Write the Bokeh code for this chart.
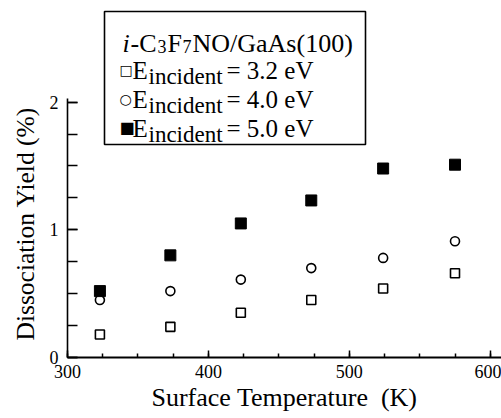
from bokeh.plotting import figure
from bokeh.models import FixedTicker, Label, BoxAnnotation, Title
from bokeh.embed import file_html
from bokeh.resources import INLINE

# ---- data ----
temperature = [323, 373, 423, 473, 524, 575]
yield_32 = [0.18, 0.24, 0.35, 0.45, 0.54, 0.66]
yield_40 = [0.45, 0.52, 0.61, 0.70, 0.78, 0.91]
yield_50 = [0.52, 0.80, 1.05, 1.23, 1.48, 1.51]
x_ticks = [300, 400, 500, 600]
y_ticks = [0, 1, 2]

SERIF = "Liberation Serif"

p = figure(width=501, height=418, x_range=(300, 608), y_range=(0, 2.796),
           output_backend="svg", toolbar_location=None,
           min_border_left=67, min_border_right=0, min_border_top=0, min_border_bottom=61)
p.outline_line_color = None
p.grid.visible = False
p.background_fill_color = "white"

# axes
p.xaxis.ticker = FixedTicker(ticks=x_ticks, minor_ticks=list(range(300, 626, 25)))
p.yaxis.ticker = FixedTicker(ticks=y_ticks, minor_ticks=[i * 0.25 for i in range(9)])
for ax in (p.xaxis[0], p.yaxis[0]):
    ax.axis_line_color = "black"
    ax.major_tick_line_color = "black"
    ax.minor_tick_line_color = "black"
    ax.major_tick_out = 0
    ax.minor_tick_out = 0
    ax.major_label_text_font = SERIF
    ax.major_label_text_font_size = "18px"
    ax.major_label_text_color = "black"
    ax.axis_label_text_font = SERIF
    ax.axis_label_text_font_size = "26px"
    ax.axis_label_text_color = "black"
    ax.axis_label_text_font_style = "normal"
    ax.major_tick_line_width = 1.5
    ax.minor_tick_line_width = 1.5
p.xaxis.axis_line_width = 2
p.yaxis.axis_line_width = 1.6
p.yaxis.bounds = (0, 2.03)
p.xaxis.major_tick_in = 7
p.xaxis.minor_tick_in = 4
p.yaxis.major_tick_in = 10
p.yaxis.minor_tick_in = 10
p.xaxis.major_label_standoff = 7
p.yaxis.major_label_standoff = 9
p.xaxis.axis_label = "Surface Temperature\u00a0 (K)"
p.xaxis.axis_label_standoff = 2

# y-axis title beside the axis, starting near the bottom of the axis
p.add_layout(Title(text="Dissociation Yield (%)", text_font=SERIF, text_font_size="25.5px",
                   text_font_style="normal", text_color="black", align="left",
                   offset=17, standoff=14), "left")

# data markers
p.scatter(temperature, yield_32, marker="square", size=9, fill_color=None,
          line_color="black", line_width=1.6)
p.scatter(temperature, yield_40, marker="circle", size=9, fill_color=None,
          line_color="black", line_width=1.6)
p.scatter(temperature, yield_50, marker="square", size=11, fill_color="black",
          line_color="black", line_width=1)

# ---- legend box (page pixel layout -> frame screen units) ----
FL, FB = 67, 357  # frame left / bottom on the page


def sx(px):
    return px - FL


def sy(py):
    return FB - py


p.add_layout(BoxAnnotation(left=sx(104), right=sx(365), top=sy(11), bottom=sy(144),
                           left_units="screen", right_units="screen",
                           top_units="screen", bottom_units="screen",
                           fill_color="white", fill_alpha=1, line_color="black",
                           line_alpha=1, line_width=1.6, level="overlay"))


def txt(text, px, py, size="25px", style="normal", font=SERIF):
    p.add_layout(Label(x=sx(px), y=sy(py), x_units="screen", y_units="screen",
                       text=text, text_font=font, text_font_size=size,
                       text_font_style=style, text_color="black",
                       text_baseline="alphabetic", text_align="left", level="overlay"))


# title line: i-C3F7NO/GaAs(100)
txt("i", 122, 43, size="26px", style="italic")
txt("-C", 130, 43, size="26px")
txt("3", 157, 46, size="18px")
txt("F", 167, 43, size="26px")
txt("7", 182, 46, size="18px")
txt("NO/GaAs(100)", 192, 43, size="26px")

energies = ["3.2", "4.0", "5.0"]
symbols = ["\u25a1", "\u25cb", "\u25a0"]
sym_sizes = ["14px", "14px", "16px"]
baselines = [70, 99, 128]
for e, s, ss, b in zip(energies, symbols, sym_sizes, baselines):
    txt(s, 119, b - 1, size=ss, font="DejaVu Sans")
    txt("E", 132, b)
    txt("incident", 148, b + 6, size="23px")
    txt("= " + e + " eV", 226, b)

open("out.html", "w").write(file_html(p, INLINE))
